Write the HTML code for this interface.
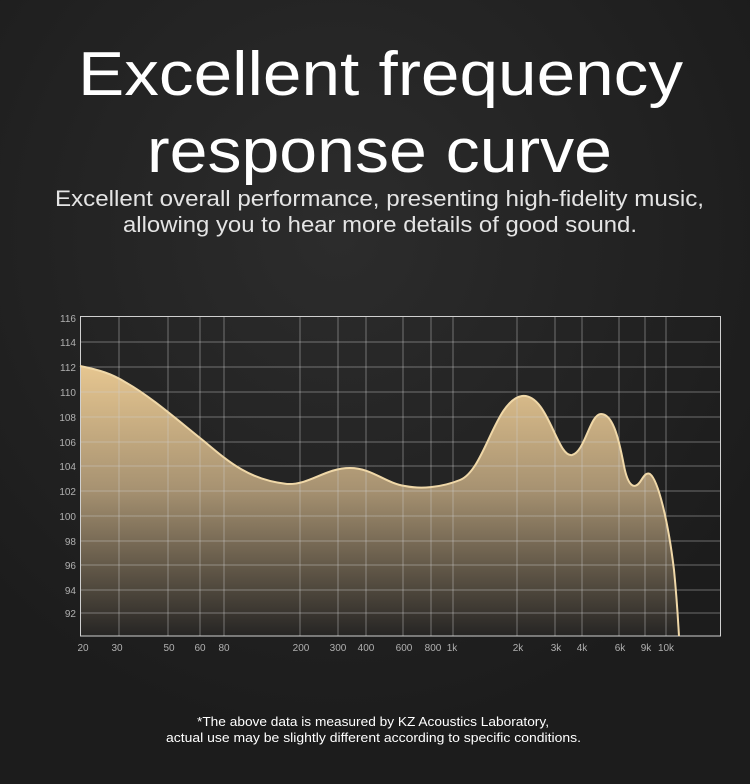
<!DOCTYPE html>
<html><head><meta charset="utf-8"><style>
html,body{margin:0;padding:0;background:#1c1c1c;}
svg{display:block}
</style></head><body>
<svg width="750" height="784" viewBox="0 0 750 784" xmlns="http://www.w3.org/2000/svg">
<defs>
<radialGradient id="bg" cx="0.45" cy="0.3" r="0.65">
<stop offset="0" stop-color="#2c2c2c"/><stop offset="1" stop-color="#1c1c1c"/>
</radialGradient>
<linearGradient id="fill" x1="0" y1="366" x2="0" y2="636" gradientUnits="userSpaceOnUse">
<stop offset="0" stop-color="#e6c690"/><stop offset="0.45" stop-color="#a89372"/><stop offset="1" stop-color="#262524"/>
</linearGradient>
</defs>
<rect width="750" height="784" fill="url(#bg)"/>
<g font-family="Liberation Sans, DejaVu Sans, sans-serif" fill="#ffffff" text-anchor="start">
<text x="78" y="95" font-size="62" textLength="605" lengthAdjust="spacingAndGlyphs">Excellent frequency</text>
<text x="147" y="172" font-size="62" textLength="465" lengthAdjust="spacingAndGlyphs">response curve</text>
<text x="55" y="206" font-size="22" fill="#e4e4e4" textLength="649" lengthAdjust="spacingAndGlyphs">Excellent overall performance, presenting high-fidelity music,</text>
<text x="123" y="232" font-size="22" fill="#e4e4e4" textLength="514" lengthAdjust="spacingAndGlyphs">allowing you to hear more details of good sound.</text>
<text x="197" y="726" font-size="13" textLength="352" lengthAdjust="spacingAndGlyphs">*The above data is measured by KZ Acoustics Laboratory,</text>
<text x="166" y="742" font-size="13" textLength="415" lengthAdjust="spacingAndGlyphs">actual use may be slightly different according to specific conditions.</text>
</g>
<path d="M80,366 C100,370 112,374 125,382 C150,396 175,418 205,442 C230,463 250,480 287,484 C310,485 325,468 350,468 C372,468 385,483 405,486 C420,489 440,488 460,480 C485,470 495,400 522,396 C548,393 557,458 572,455 C585,452 590,414 601,414 C612,414 618,434 624,466 C628,486 634,490 640,482 C644,476 646,472 650,474 C658,480 668,520 674,570 C677,600 678,620 679,636 L80,636 Z" fill="url(#fill)"/>
<g stroke="#cfcfcf" stroke-opacity="0.45" stroke-width="1" fill="none">
<path d="M80,342H721M80,367H721M80,392H721M80,417H721M80,442H721M80,466H721M80,491H721M80,516H721M80,541H721M80,565H721M80,590H721M80,613H721"/>
<path d="M119,316V636M168,316V636M200,316V636M224,316V636M300,316V636M338,316V636M366,316V636M403,316V636M431,316V636M453,316V636M517,316V636M555,316V636M582,316V636M619,316V636M645,316V636M666,316V636"/>
</g>
<rect x="80.5" y="316.5" width="640" height="319.5" fill="none" stroke="#d0d0d0" stroke-width="1"/>
<path d="M80,366 C100,370 112,374 125,382 C150,396 175,418 205,442 C230,463 250,480 287,484 C310,485 325,468 350,468 C372,468 385,483 405,486 C420,489 440,488 460,480 C485,470 495,400 522,396 C548,393 557,458 572,455 C585,452 590,414 601,414 C612,414 618,434 624,466 C628,486 634,490 640,482 C644,476 646,472 650,474 C658,480 668,520 674,570 C677,600 678,620 679,636" fill="none" stroke="#f0d8a8" stroke-width="2"/>
<g font-family="Liberation Sans, DejaVu Sans, sans-serif" font-size="10" fill="#b0b0b0">
<g text-anchor="end">
<text x="76" y="322">116</text><text x="76" y="346">114</text><text x="76" y="371">112</text><text x="76" y="396">110</text><text x="76" y="421">108</text><text x="76" y="446">106</text><text x="76" y="470">104</text><text x="76" y="495">102</text><text x="76" y="520">100</text><text x="76" y="545">98</text><text x="76" y="569">96</text><text x="76" y="594">94</text><text x="76" y="617">92</text>
</g>
<g text-anchor="middle">
<text x="83" y="651">20</text><text x="117" y="651">30</text><text x="169" y="651">50</text><text x="200" y="651">60</text><text x="224" y="651">80</text><text x="301" y="651">200</text><text x="338" y="651">300</text><text x="366" y="651">400</text><text x="404" y="651">600</text><text x="433" y="651">800</text><text x="452" y="651">1k</text><text x="518" y="651">2k</text><text x="556" y="651">3k</text><text x="582" y="651">4k</text><text x="620" y="651">6k</text><text x="646" y="651">9k</text><text x="666" y="651">10k</text>
</g>
</g>
</svg>
</body></html>
